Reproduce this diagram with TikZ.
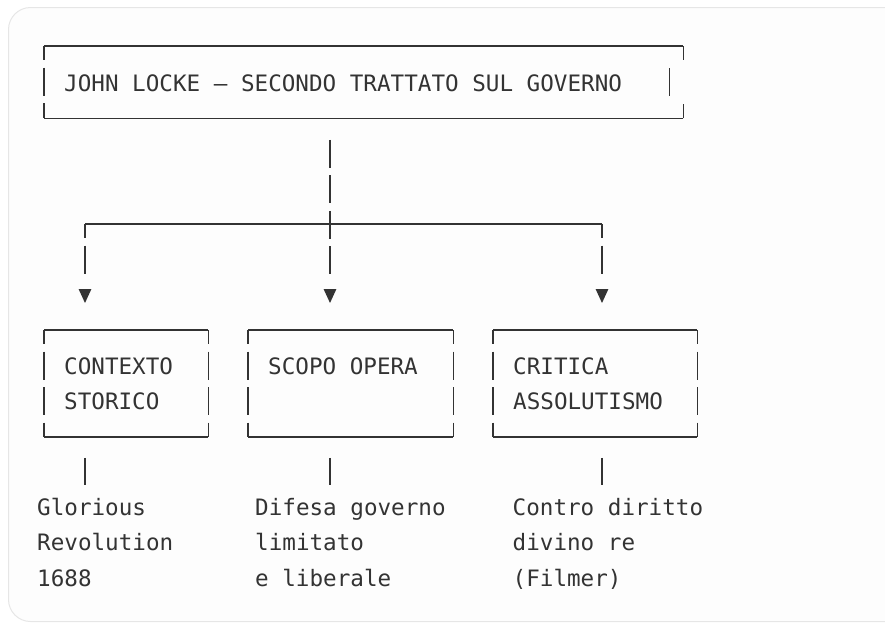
\documentclass[tikz,border=0pt]{standalone}
\usepackage{fontspec}
\setmonofont{DejaVu Sans Mono}
\usepackage{tikz}
\usetikzlibrary{arrows.meta}
\definecolor{ink}{HTML}{333333}
\definecolor{cardline}{HTML}{E6E6E6}
\definecolor{cardfill}{HTML}{FDFDFD}

\begin{document}
\begin{tikzpicture}[x=1pt,y=-1pt,
    font=\ttfamily\fontsize{22.6}{35.5}\selectfont,
    execute at begin node={\spaceskip=13.6pt\xspaceskip=13.6pt\relax},
    box/.style={anchor=north west,inner xsep=20pt,inner ysep=0pt,align=left,text=ink,text height=44pt,text depth=62.5pt},
    note/.style={anchor=north west,inner sep=0pt,align=left,text=ink,text width=200pt,text height=20pt},
    hedge/.style={draw=ink,line width=1.2pt},
    vedge/.style={draw=ink,line width=1.3pt,dash pattern=on 28pt off 7.5pt,dash phase=14pt},
    link/.style={draw=ink,line width=1.3pt,dash pattern=on 28pt off 7.5pt on 28pt off 7.5pt on 28pt off 7.5pt on 28pt off 30pt,-{Triangle[length=14pt,width=12.5pt]},shorten >=27pt},
    pipe/.style={draw=ink,line width=1.3pt,shorten <=21pt,shorten >=10pt}]
    \useasboundingbox (0,0) rectangle (885,625);
    \draw[cardline,fill=cardfill,rounded corners=22pt,line width=1pt] (8.5,7.5) rectangle (920,621.5);

    \node at (44,46) [box,text width=599pt,text height=45pt,text depth=27pt] (title) {JOHN LOCKE – SECONDO TRATTATO SUL GOVERNO};
    \node at (44,330) [box,text width=124pt] (ctx) {CONTEXTO\\STORICO};
    \node at (248,330) [box,text width=165pt] (scope) {SCOPO OPERA};
    \node at (493,330) [box,text width=164pt] (crit) {CRITICA\\ASSOLUTISMO};
    \node at (37,495) [note] (n1) {Glorious\\Revolution\\1688};
    \node at (255,495) [note] (n2) {Difesa governo\\limitato\\e liberale};
    \node at (512.5,495) [note] (n3) {Contro diritto\\divino re\\(Filmer)};

    \coordinate (j1) at (85,224);
    \coordinate (j2) at (330,224);
    \coordinate (j3) at (602,224);

    \foreach \b in {title,ctx,scope,crit}
        \draw[hedge] (\b.north west) -- (\b.north east) (\b.south west) -- (\b.south east);
    \foreach \b in {ctx,scope,crit}
        \draw[vedge] (\b.north west) -- (\b.south west) (\b.north east) -- (\b.south east);
    \draw[vedge] (title.north west) -- (title.south west);
    \draw[vedge] (title.north east) -- ++(0,14) (title.south east) -- ++(0,-14);
    \draw[vedge,solid] ([xshift=-14pt]title.east) ++(0,-14) -- ++(0,28);

    \draw[hedge] (j1) -- (j3);
    \draw[link,dash phase=143pt] (title.south -| j2) -- (j2 |- scope.north);
    \draw[link,dash phase=85pt] (j1) -- (j1 |- ctx.north);
    \draw[link,dash phase=85pt] (j3) -- (j3 |- crit.north);

    \draw[pipe] (ctx.south -| j1) -- (j1 |- n1.north);
    \draw[pipe] (scope.south -| j2) -- (j2 |- n2.north);
    \draw[pipe] (crit.south -| j3) -- (j3 |- n3.north);
\end{tikzpicture}
\end{document}
